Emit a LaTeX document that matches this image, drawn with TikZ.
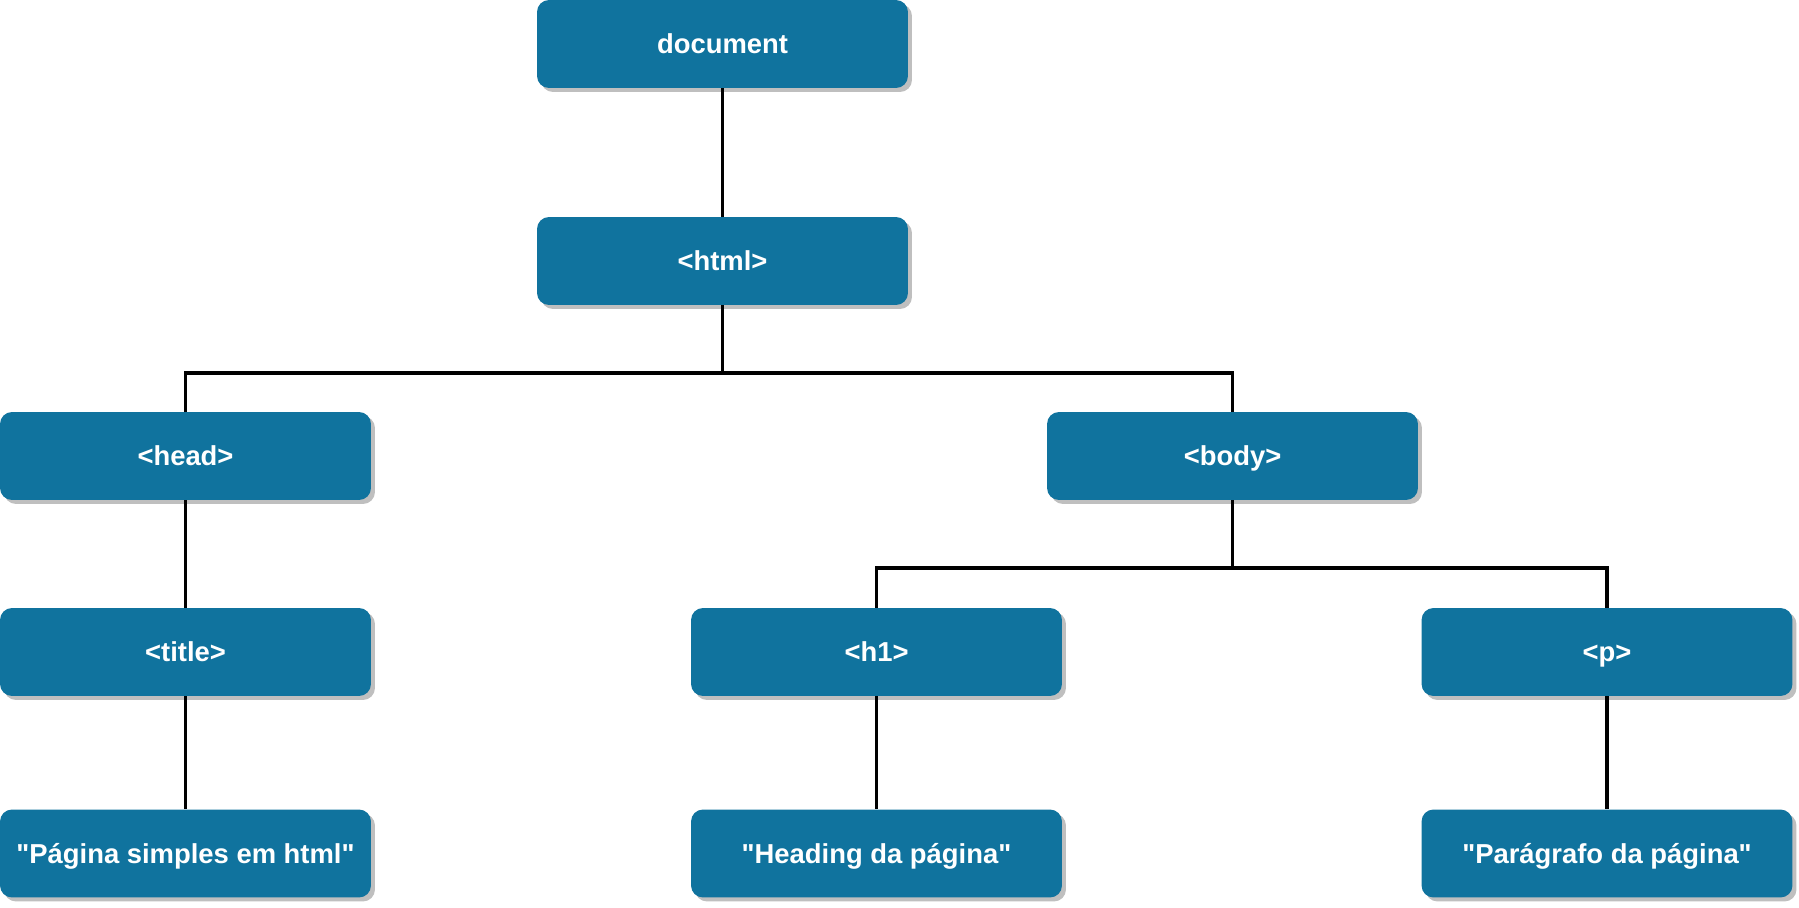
\documentclass[tikz,border=0pt]{standalone}
\usepackage{fontspec}
\setmainfont{Liberation Sans}
\usetikzlibrary{shadows}
\definecolor{nodeblue}{HTML}{10739E}
\definecolor{shadowgray}{HTML}{BFBFBF}

\begin{document}
\begin{tikzpicture}[x=0.02cm, y=0.02cm,
    box/.style={rectangle, rounded corners=0.24cm, fill=nodeblue, text=white,
        minimum width=7.42cm, minimum height=1.76cm, inner sep=0pt,
        text height=14pt, text depth=2.8pt,
        font=\fontsize{15.6pt}{18pt}\selectfont\bfseries,
        drop shadow={shadow xshift=0.08cm, shadow yshift=-0.08cm, fill=shadowgray, opacity=1}},
    wire/.style={line width=1.8pt, black}]
\useasboundingbox (0,0) rectangle (1799,907);
% tree nodes
\node[box] (doc)   at (722.5,863) {document};
\node[box] (html)  at (722.5,646) {<html>};
\node[box] (head)  at (185.5,451) {<head>};
\node[box] (body)  at (1232.5,451) {<body>};
\node[box] (title) at (185.5,255) {<title>};
\node[box] (hone)  at (876.5,255) {<h1>};
\node[box] (para)  at (1607,255) {<p>};
\node[box] (txttitle) at (185.5,53.5) {\textquotedbl Página simples em html\textquotedbl};
\node[box] (txthone)  at (876.5,53.5) {\textquotedbl Heading da página\textquotedbl};
\node[box] (txtpara)  at (1607,53.5) {\textquotedbl Parágrafo da página\textquotedbl};
% branch points
\coordinate (forkhtml) at (722.5,534);
\coordinate (forkbody) at (1232.5,339);
% connectors
\draw[wire] (doc) -- (html);
\draw[wire] (html) -- (forkhtml);
\draw[wire] (head.north) |- (forkhtml) -| (body.north);
\draw[wire] (head) -- (title);
\draw[wire] (title) -- (txttitle);
\draw[wire] (body) -- (forkbody);
\draw[wire] (hone.north) |- (forkbody) -| (para.north);
\draw[wire] (hone) -- (txthone);
\draw[wire] (para) -- (txtpara);
\end{tikzpicture}
\end{document}
